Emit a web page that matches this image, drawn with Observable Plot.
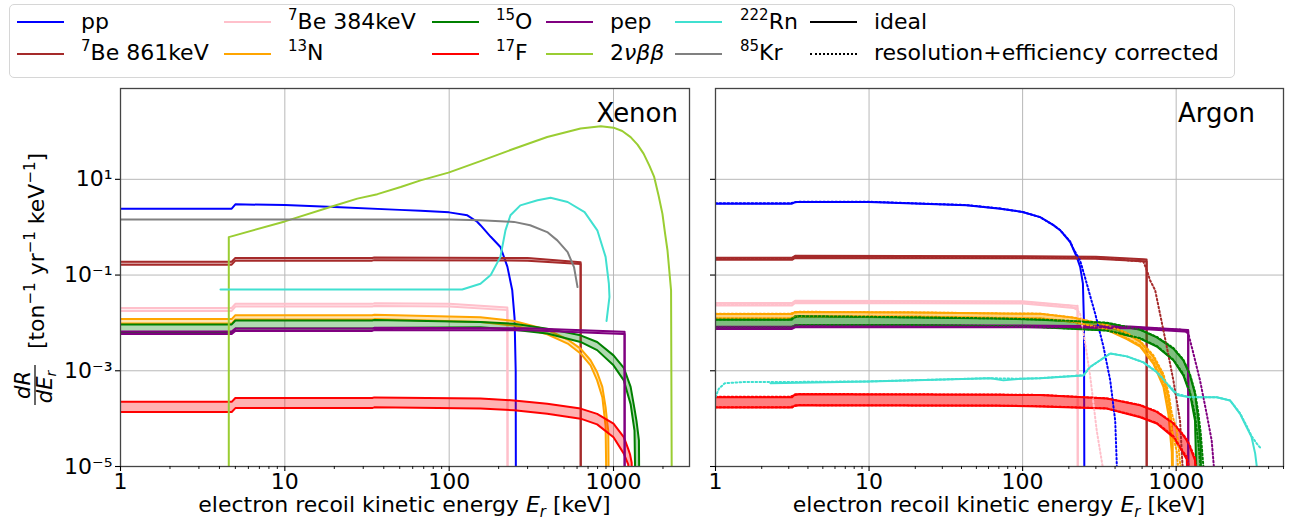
<!DOCTYPE html>
<html><head><meta charset="utf-8">
<script src="https://cdn.jsdelivr.net/npm/d3@7"></script>
<script src="https://cdn.jsdelivr.net/npm/@observablehq/plot@0.6"></script>
<style>
body{margin:0;background:#fff;font-family:"DejaVu Sans",sans-serif;}
#wrap{position:relative;width:1291px;height:521px;overflow:hidden;background:#fff;}
.leg{position:absolute;left:9px;top:4px;width:1226px;height:74px;border:1px solid #d6d6d6;border-radius:5px;box-sizing:border-box;}
.item{position:absolute;font-size:22px;line-height:22px;white-space:nowrap;color:#000;}
.h{position:absolute;width:47px;height:0;}
.item sup{font-size:15px;vertical-align:0;position:relative;top:-9px;}
#left{position:absolute;left:0;top:80px;}
#right{position:absolute;left:700px;top:80px;}
</style></head>
<body>
<div id="wrap">
  <div class="leg"></div>
  <div id="legend"></div>
  <div id="left"></div>
  <div id="right"></div>
</div>
<script>
// ---------- legend ----------
const legendLabels = ["pp","<sup>7</sup>Be 861keV","<sup>7</sup>Be 384keV","<sup>13</sup>N","<sup>15</sup>O","<sup>17</sup>F","pep","2<i>νββ</i>","<sup>222</sup>Rn","<sup>85</sup>Kr","ideal","resolution+efficiency corrected"];
const legendColors = ["#0000ff","#a52a2a","#ffc0cb","#ffa500","#008000","#ff0000","#800080","#9acd32","#40e0d0","#808080","#000000","#000000"];
const legendDash = [false,false,false,false,false,false,false,false,false,false,false,true];

// ---------- axes ----------
const xMajor = [1, 10, 100, 1000];
const xMinorXe = [2,3,4,5,6,7,8,9,20,30,40,50,60,70,80,90,200,300,400,500,600,700,800,900,2000];
const xMinorAr = [2,3,4,5,6,7,8,9,20,30,40,50,60,70,80,90,200,300,400,500,600,700,800,900,2000,3000,4000,5000];
const yMajor = [10, 0.1, 1e-3, 1e-5];
const yTickLabels = ["10¹","10⁻¹","10⁻³","10⁻⁵"];

// ---------- Xenon (ideal) : [E keV, rate] or [E keV, low, high] ----------
const xePP = [[1,2.44],[4.75,2.44],[5.0,3.0],[10,2.9],[20,2.65],[50,2.3],[67,2.2],[100,2.04],[129,1.77],[148,1.3],[155,1.1],[179,0.63],[205,0.385],[226,0.15],[242,0.048],[250,0.0126],[254,0.001],[255,1e-7]];
const xeKr = [[1,1.45],[34,1.45],[100,1.45],[155,1.39],[248,1.29],[311,1.1],[395,0.79],[455,0.53],[526,0.3],[575,0.147],[604,0.056]];
const xeBB = [[4.56,1e-7],[4.56,0.62],[10,1.32],[20,2.8],[27.6,3.95],[36.6,4.9],[50.7,6.9],[67,9.5],[99,13.8],[155,24],[248,43.6],[395,76.5],[630,115],[837,128],[1000,120],[1130,102],[1271,76],[1400,53],[1524,34.5],[1650,19.5],[1768,11.2],[1880,4.6],[1985,1.9],[2060,0.73],[2130,0.33],[2240,0.048],[2270,1e-7]];
const xeRn = [[4.06,0.05],[50,0.05],[120,0.05],[155,0.066],[179,0.1],[205,0.24],[220,0.86],[236,1.78],[271,2.86],[345,3.64],[414,4.14],[526,3.36],[667,2.07],[797,0.86],[895,0.24],[937,0.066],[945,0.035],[907,0.011]];
const xeBe861 = [[1,0.165,0.19],[4.75,0.165,0.19],[5.0,0.2,0.228],[34,0.2,0.228],[35,0.205,0.233],[300,0.2,0.226],[631,0.17,0.186],[632,1e-7,1e-7]];
const xeBe384 = [[1,0.0178,0.0205],[4.75,0.0178,0.0205],[5.0,0.022,0.025],[34,0.022,0.025],[35,0.0225,0.0256],[100,0.022,0.025],[226,0.0185,0.021],[227,1e-7,1e-7]];
const xeN13 = [[1,0.0097,0.012],[4.75,0.0097,0.012],[5.0,0.0118,0.0145],[34,0.0118,0.0145],[35,0.012,0.0148],[155,0.0105,0.0132],[248,0.0088,0.011],[395,0.0058,0.0072],[526,0.0037,0.0045],[630,0.0023,0.0029],[725,0.0013,0.00166],[795,0.00063,0.00093],[855,0.00028,0.00046],[895,7e-5,1.74e-4],[910,1e-6,1e-4],[929,1e-7,5.6e-5],[944,1e-7,1e-7]];
const xeO15 = [[1,0.0063,0.0093],[4.75,0.0063,0.0093],[5.0,0.0076,0.0112],[34,0.0076,0.0112],[35,0.0078,0.0115],[155,0.0081,0.0104],[248,0.0072,0.0096],[395,0.006,0.0076],[630,0.004,0.0055],[795,0.0027,0.004],[1000,0.0013,0.0021],[1155,0.00063,0.00115],[1271,0.0002,0.00046],[1342,5.6e-5,1.6e-4],[1380,1e-7,9e-5],[1428,1e-7,3.5e-5],[1445,1e-7,1e-7]];
const xePep = [[1,0.0059,0.0066],[4.75,0.0059,0.0066],[5.0,0.0068,0.0076],[34,0.0068,0.0076],[35,0.0071,0.0079],[300,0.007,0.0077],[1150,0.0059,0.0065],[1168,0.0059,0.0065],[1169,1e-7,1e-7]];
const xeF17 = [[1,1.38e-4,2.24e-4],[4.75,1.38e-4,2.24e-4],[5.0,1.66e-4,2.7e-4],[34,1.66e-4,2.7e-4],[35,1.72e-4,2.78e-4],[155,1.62e-4,2.63e-4],[248,1.5e-4,2.4e-4],[395,1.26e-4,2.04e-4],[630,1e-4,1.62e-4],[795,7.6e-5,1.26e-4],[1000,4.1e-5,7.9e-5],[1155,1.86e-5,4.1e-5],[1230,1.1e-5,2.3e-5],[1260,1e-7,1.8e-5],[1290,1e-7,1.2e-5],[1318,1e-7,1e-7]];

// ---------- Argon (ideal + corrected) ----------
const arPP = [[1,3.1],[3.15,3.1],[3.3,3.35],[10,3.35],[43,2.86],[71.5,2.44],[100,2.07],[130,1.62],[159,1.1],[176,0.86],[204,0.49],[225,0.24],[237,0.148],[247,0.066],[251,0.01],[253,1e-7]];
const arPPc = [[1,3.15],[3.0,3.15],[3.5,3.4],[10,3.4],[43,2.9],[71.5,2.46],[100,2.08],[130,1.62],[159,1.1],[176,0.86],[204,0.5],[214,0.355],[237,0.2],[258,0.078],[269,0.048],[297,0.0155],[336,0.0032],[372,0.00063],[401,9e-5],[414,5e-6]];
const arBe861 = [[1,0.208,0.23],[3.15,0.208,0.23],[3.3,0.228,0.252],[100,0.224,0.248],[300,0.218,0.24],[612,0.195,0.214],[642,0.193,0.212],[643,1e-7,1e-7]];
const arBe861c = [[1,0.222],[3.0,0.222],[3.5,0.243],[300,0.232],[612,0.19],[644,0.126],[676,0.078],[730,0.048],[785,0.0155],[868,0.0032],[959,0.00063],[1060,9e-5],[1114,5e-6]];
const arBe384 = [[1,0.023,0.026],[3.15,0.023,0.026],[3.3,0.026,0.029],[100,0.0255,0.0285],[225,0.0202,0.0227],[228,0.0202,0.0227],[229,1e-7,1e-7]];
const arBe384c = [[1,0.0245],[3.0,0.0245],[3.5,0.0275],[100,0.027],[200,0.023],[225,0.019],[237,0.0155],[255,0.004],[275,0.0008],[304,5.6e-5],[344,5e-6]];
const arN13 = [[1,0.0123,0.0153],[3.15,0.0123,0.0153],[3.3,0.0137,0.017],[20,0.0135,0.0165],[71.5,0.0127,0.0157],[130,0.0124,0.0155],[214,0.0105,0.0129],[353,0.0072,0.0089],[477,0.0046,0.006],[583,0.0032,0.004],[711,0.0014,0.00195],[826,0.00046,0.00074],[891,0.00012,0.00028],[936,2e-5,7.9e-5],[950,1e-6,3e-5],[959,1e-7,1e-7]];
const arN13c = [[1,0.0125,0.0155],[3.0,0.0125,0.0155],[3.5,0.0138,0.0171],[20,0.0136,0.0166],[71.5,0.0128,0.0158],[130,0.0125,0.0156],[214,0.0106,0.013],[353,0.0073,0.009],[477,0.0048,0.0062],[583,0.0034,0.0042],[711,0.0016,0.0021],[826,0.00055,0.00085],[891,0.00018,0.00035],[936,6e-5,1.3e-4],[1010,2e-5,5.6e-5],[1090,1e-6,5e-6]];
const arO15 = [[1,0.0079,0.0117],[3.15,0.0079,0.0117],[3.3,0.0089,0.0138],[20,0.0089,0.013],[71.5,0.0085,0.0123],[130,0.0081,0.0117],[353,0.0069,0.01],[583,0.0047,0.0072],[748,0.0032,0.005],[959,0.00166,0.0029],[1114,0.0008,0.00166],[1230,0.00033,0.0008],[1327,9e-5,0.00033],[1396,1e-7,9e-5],[1445,1e-7,2.5e-5],[1475,1e-7,1e-7]];
const arO15c = [[1,0.008,0.0118],[3.0,0.008,0.0118],[3.5,0.009,0.0139],[20,0.009,0.0131],[71.5,0.0086,0.0124],[130,0.0082,0.0118],[353,0.007,0.0101],[583,0.0048,0.0073],[748,0.0033,0.0051],[959,0.0017,0.003],[1114,0.00085,0.0017],[1230,0.00036,0.00085],[1327,1.2e-4,0.00036],[1396,3e-5,1.3e-4],[1445,8e-6,5e-5],[1530,1e-7,5e-6]];
const arPep = [[1,0.0075,0.0083],[3.15,0.0075,0.0083],[3.3,0.0081,0.0089],[100,0.0081,0.0088],[500,0.0077,0.0084],[1190,0.0065,0.0071],[1198,0.0065,0.0071],[1199,1e-7,1e-7]];
const arPepc = [[1,0.0079],[3.0,0.0079],[3.5,0.0085],[500,0.0081],[1100,0.0072],[1200,0.006],[1295,0.0023],[1430,0.00063],[1580,1.26e-4],[1703,3.5e-5],[1792,5e-6]];
const arRn = [[2.28,0.00055],[10,0.0006],[61.6,0.0007],[75,0.00063],[96,0.00068],[130,0.0007],[249,0.0008],[275,0.0012],[320,0.00166],[372,0.0023],[477,0.002],[612,0.0015],[748,0.00093],[866,0.00054],[1010,0.00031],[1230,0.00028],[1837,0.00028],[2244,0.00024],[2606,1.26e-4],[2880,6.6e-5],[3100,4.1e-5],[3270,1.86e-5],[3350,1e-5],[3360,1e-7]];
const arRnc = [[1,0.00028],[1.05,0.00042],[1.15,0.00055],[1.5,0.00058],[2.28,0.00058],[10,0.0006],[61.6,0.0007],[96,0.00068],[130,0.0007],[249,0.00081],[275,0.0012],[320,0.00166],[372,0.0023],[477,0.002],[612,0.0015],[748,0.00095],[866,0.00056],[1010,0.00033],[1230,0.00028],[1837,0.00028],[2244,0.00024],[2606,1.3e-4],[2880,7e-5],[3100,4.3e-5],[3350,3e-5],[3515,2.5e-5]];
const arF17 = [[1,1.7e-4,2.8e-4],[3.15,1.7e-4,2.8e-4],[3.3,1.9e-4,3.24e-4],[71.5,1.85e-4,3.15e-4],[130,1.8e-4,3.1e-4],[353,1.62e-4,2.63e-4],[583,1.07e-4,1.9e-4],[748,7.9e-5,1.38e-4],[959,4.1e-5,7.9e-5],[1114,1.86e-5,4.4e-5],[1172,1.4e-5,3.5e-5],[1230,1e-7,2.5e-5],[1327,1e-7,1.35e-5],[1364,1e-7,1e-7]];
const arF17c = [[1,1.72e-4,2.85e-4],[3.0,1.72e-4,2.85e-4],[3.5,1.92e-4,3.28e-4],[71.5,1.87e-4,3.18e-4],[130,1.82e-4,3.13e-4],[353,1.64e-4,2.66e-4],[583,1.09e-4,1.93e-4],[748,8.1e-5,1.41e-4],[959,4.3e-5,8.1e-5],[1114,2e-5,4.6e-5],[1172,1.6e-5,3.7e-5],[1230,8e-6,2.7e-5],[1327,1e-6,1.5e-5],[1400,1e-7,3e-6]];

const C = {pp:"#0000ff", be861:"#a52a2a", be384:"#ffc0cb", n13:"#ffa500", o15:"#008000", f17:"#ff0000", pep:"#800080", bb:"#9acd32", rn:"#40e0d0", kr:"#808080"};

// ---------- build legend ----------
const legCols = [[16.6,81],[224,288],[431.5,496],[545.6,610],[675,740],[810,874]];
const legRows = [22.7, 54];
const legDiv = document.getElementById("legend");
legendLabels.forEach((lab, i) => {
  const col = Math.floor(i / 2), row = i % 2;
  const [hx, tx] = legCols[col];
  const cy = legRows[row];
  const h = document.createElement("div");
  h.className = "h";
  h.style.left = hx + "px";
  h.style.top = (cy - 1.3) + "px";
  h.style.borderTop = legendDash[i] ? `2.6px dotted ${legendColors[i]}` : `2.6px solid ${legendColors[i]}`;
  legDiv.appendChild(h);
  const t = document.createElement("div");
  t.className = "item";
  t.style.left = tx + "px";
  t.style.top = (cy - 12) + "px";
  t.innerHTML = lab;
  legDiv.appendChild(t);
});

const X = d => d[0];
const SMOOTH = "monotone-x";
function addBand(marks, data, color, op, dashed) {
  const mono = data.every((d, i) => i === 0 || d[0] > data[i - 1][0]);
  const curve = "linear";
  if (!dashed) marks.push(Plot.areaY(data, {x: X, y1: d => d[1], y2: d => d[2], fill: color, fillOpacity: op, clip: true, curve}));
  const o = {x: X, stroke: color, strokeWidth: 2, clip: true, curve};
  if (dashed) o.strokeDasharray = "1.6,2.4";
  marks.push(Plot.line(data, {...o, y: d => d[1]}));
  marks.push(Plot.line(data, {...o, y: d => d[2]}));
}
function addLine(marks, data, color, dashed) {
  const o = {x: X, y: d => d[1], stroke: color, strokeWidth: 2, clip: true};
  if (dashed) o.strokeDasharray = "1.6,2.4";
  marks.push(Plot.line(data, o));
}

const ylab = new Map(yMajor.map((v, i) => [v, yTickLabels[i]]));
const FONT = "'DejaVu Sans', sans-serif";

function panel({width, mL, mR, domain, minor, labels, build}) {
  const marks = [
    Plot.gridX(xMajor.slice(1), {stroke: "#b8b8b8", strokeOpacity: 1, strokeWidth: 1}),
    Plot.gridY(yMajor.slice(0, 3), {stroke: "#b8b8b8", strokeOpacity: 1, strokeWidth: 1})
  ];
  build(marks);
  marks.push(
    Plot.frame({stroke: "#444", strokeWidth: 1.3}),
    Plot.axisX({ticks: xMajor, tickFormat: d => String(d), tickSize: 5, tickPadding: 2, fontSize: 22, label: null, strokeWidth: 1.1}),
    Plot.axisX({ticks: minor, tickFormat: () => "", tickSize: 3, label: null, strokeWidth: 0.9}),
    Plot.axisY({ticks: yMajor, tickFormat: labels ? (d => ylab.get(d)) : (() => ""), tickSize: 5, tickPadding: 3, fontSize: 22, label: null, strokeWidth: 1.1})
  );
  return Plot.plot({
    width, height: 441, marginTop: 8, marginBottom: 55, marginLeft: mL, marginRight: mR,
    x: {type: "log", domain, label: null},
    y: {type: "log", domain: [1e-5, 790], label: null},
    style: {background: "white", fontFamily: FONT, overflow: "visible", color: "black"},
    marks
  });
}

const left = panel({
  width: 700, mL: 120, mR: 11, domain: [1, 2900], minor: xMinorXe, labels: true,
  build: m => {
    addLine(m, xePP, C.pp);
    addBand(m, xeBe861, C.be861, 0.3);
    addBand(m, xeBe384, C.be384, 0.3);
    addBand(m, xeN13, C.n13, 0.3);
    addBand(m, xeO15, C.o15, 0.3);
    addBand(m, xeF17, C.f17, 0.3);
    addBand(m, xePep, C.pep, 0.3);
    addLine(m, xeBB, C.bb);
    addLine(m, xeRn, C.rn);
    addLine(m, xeKr, C.kr);
  }
});
const right = panel({
  width: 591, mL: 15, mR: 8, domain: [1, 5000], minor: xMinorAr, labels: false,
  build: m => {
    addLine(m, arPP, C.pp);
    addBand(m, arBe861, C.be861, 0.5);
    addBand(m, arBe384, C.be384, 0.5);
    addBand(m, arN13, C.n13, 0.5);
    addBand(m, arO15, C.o15, 0.5);
    addBand(m, arF17, C.f17, 0.5);
    addBand(m, arPep, C.pep, 0.5);
    addLine(m, arRn, C.rn);
    addLine(m, arPPc, C.pp, true);
    addLine(m, arBe861c, C.be861, true);
    addLine(m, arBe384c, C.be384, true);
    addBand(m, arN13c, C.n13, 0, true);
    addBand(m, arO15c, C.o15, 0, true);
    addBand(m, arF17c, C.f17, 0, true);
    addLine(m, arPepc, C.pep, true);
    addLine(m, arRnc, C.rn, true);
  }
});
document.getElementById("left").appendChild(left);
document.getElementById("right").appendChild(right);

function xLabel(svg, cx) {
  const t = d3.select(svg).append("text").attr("x", cx).attr("y", 432)
    .attr("text-anchor", "middle").attr("font-size", 22).attr("font-family", FONT).attr("fill", "black");
  t.append("tspan").text("electron recoil kinetic energy ");
  t.append("tspan").attr("font-style", "italic").text("E");
  t.append("tspan").attr("font-style", "italic").attr("font-size", 15).attr("dy", 5).text("r");
  t.append("tspan").attr("dy", -5).text(" [keV]");
}
function panelName(svg, x, name) {
  d3.select(svg).append("text").attr("x", x).attr("y", 42).attr("text-anchor", "end")
    .attr("font-size", 26).attr("font-family", FONT).attr("fill", "black").text(name);
}
xLabel(left, 404.5);
xLabel(right, 299);
panelName(left, 678, "Xenon");
panelName(right, 555, "Argon");

// y-axis label (rotated)
const g = d3.select(left).append("g").attr("transform", "translate(36,0) rotate(-90)")
  .attr("font-family", FONT).attr("fill", "black");
const br = g.append("text").attr("x", -171).attr("y", 8).attr("text-anchor", "middle").attr("font-size", 22);
br.append("tspan").text("[ton");
br.append("tspan").attr("font-size", 15).attr("dy", -9).text("−1");
br.append("tspan").attr("dy", 9).text(" yr");
br.append("tspan").attr("font-size", 15).attr("dy", -9).text("−1");
br.append("tspan").attr("dy", 9).text(" keV");
br.append("tspan").attr("font-size", 15).attr("dy", -9).text("−1");
br.append("tspan").attr("dy", 9).text("]");
g.append("text").attr("x", -305).attr("y", -6).attr("text-anchor", "middle").attr("font-size", 21)
  .attr("font-style", "italic").text("dR");
g.append("line").attr("x1", -325).attr("x2", -285).attr("y1", -1).attr("y2", -1).attr("stroke", "black").attr("stroke-width", 1.2);
const den = g.append("text").attr("x", -307).attr("y", 16).attr("text-anchor", "middle").attr("font-size", 21).attr("font-style", "italic");
den.append("tspan").text("dE");
den.append("tspan").attr("font-size", 14).attr("dy", 4).text("r");
</script>
</body></html>
